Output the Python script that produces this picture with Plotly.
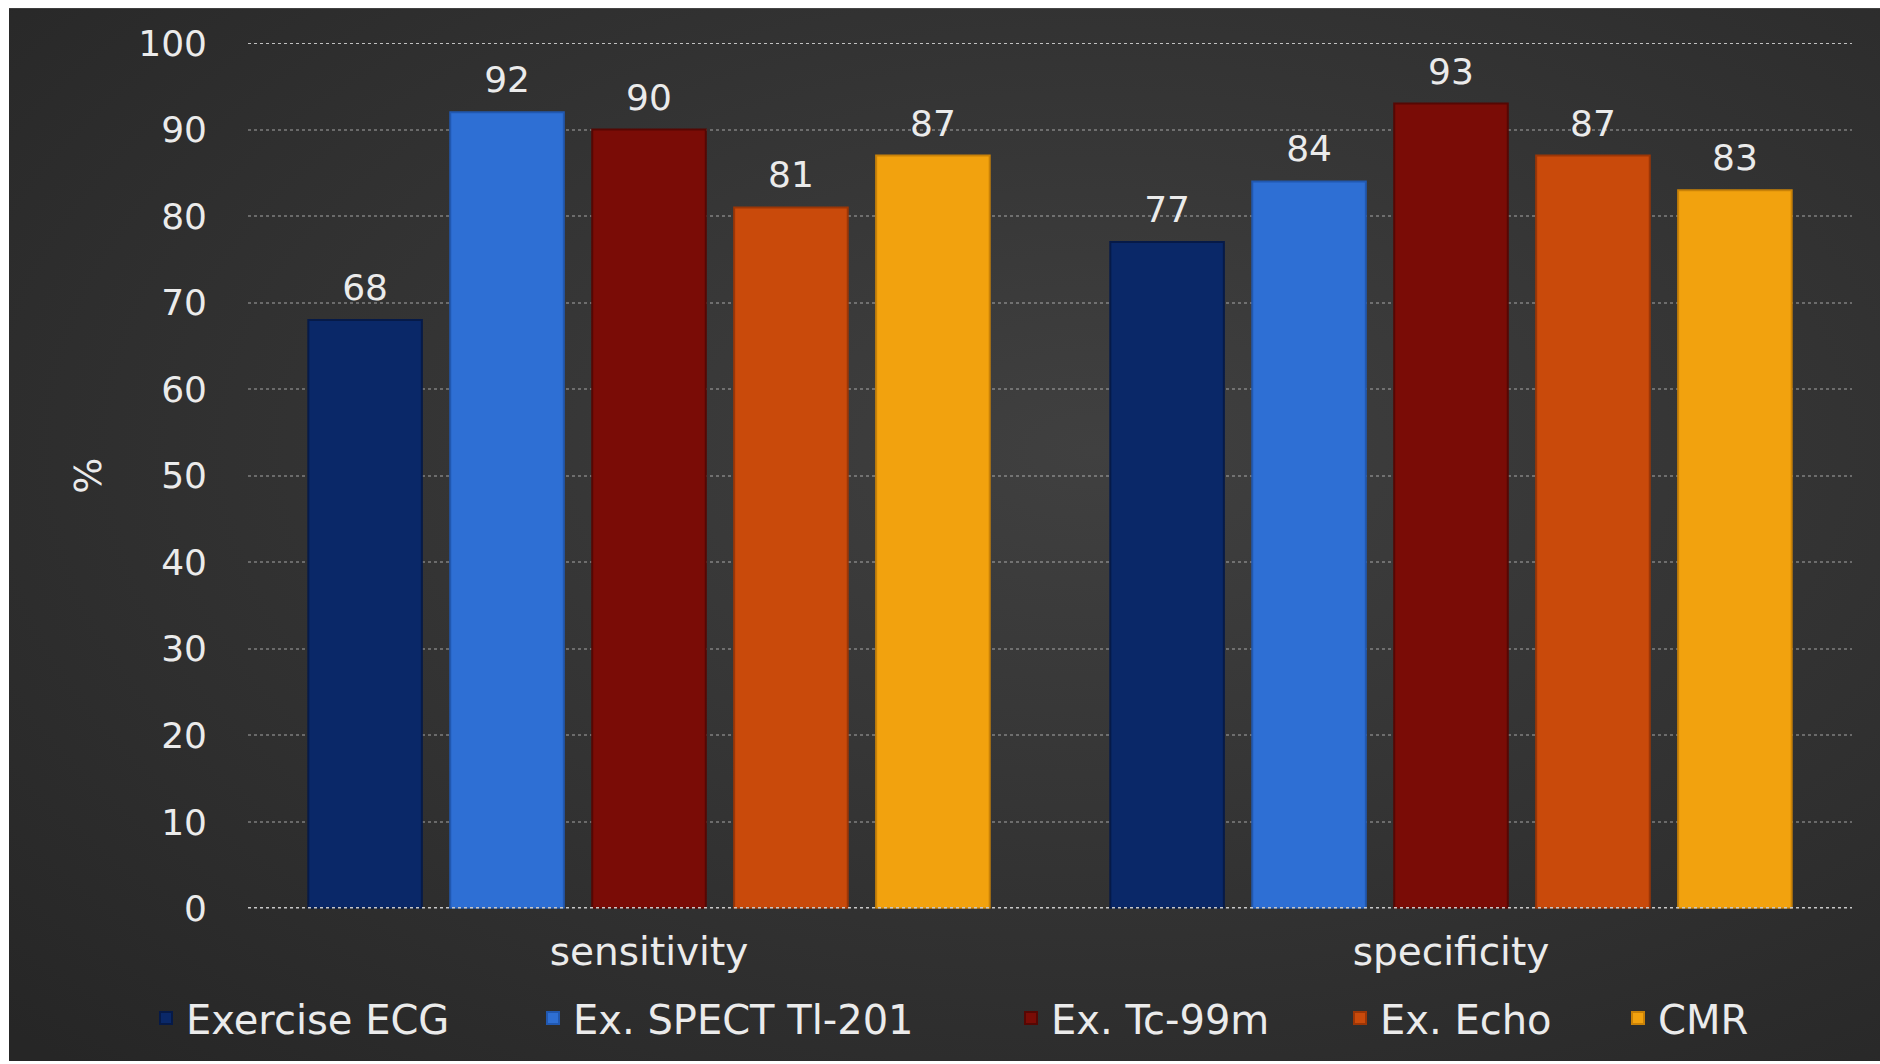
import base64
import plotly.graph_objects as go

categories = ["sensitivity", "specificity"]
series_names = ["Exercise ECG", "Ex. SPECT Tl-201", "Ex. Tc-99m", "Ex. Echo", "CMR"]
exercise_ecg = [68, 77]
ex_spect = [92, 84]
ex_tc99m = [90, 93]
ex_echo = [81, 87]
cmr = [87, 83]
y_ticks = [0, 10, 20, 30, 40, 50, 60, 70, 80, 90, 100]

series_values = [exercise_ecg, ex_spect, ex_tc99m, ex_echo, cmr]
fill_colors = ["#0a2868", "#2e6fd4", "#7a0c06", "#c94a0b", "#f2a20e"]
edge_colors = ["#061a48", "#2158b0", "#560703", "#9c3606", "#c98208"]
# left edge of each legend label text (px, from the reference)
legend_text_x = [186, 573, 1051, 1380, 1658]

W, H = 1880, 1064
L, R, T, B = 248, 28, 43, 153
pw, ph = W - L - R, H - T - B
FONT = "DejaVu Sans"
TXT = "#ebebeb"
BARGAP = 0.115

fig = go.Figure()
legend_layouts = {}
for i, (name, vals, fc, ec) in enumerate(zip(series_names, series_values, fill_colors, edge_colors)):
    lg = "legend" if i == 0 else f"legend{i + 1}"
    fig.add_trace(go.Bar(
        name=name, x=categories, y=vals, legend=lg,
        marker=dict(color=fc, line=dict(color=ec, width=2)),
        showlegend=True,
    ))
    legend_layouts[lg] = dict(
        orientation="h", xref="container", yref="container",
        x=(legend_text_x[i] - 40) / W, y=1 - 1018 / H,
        xanchor="left", yanchor="middle",
        font=dict(family=FONT, size=40, color=TXT),
        bgcolor="rgba(0,0,0,0)", borderwidth=0,
    )

for name, vals in zip(series_names, series_values):
    fig.add_trace(go.Scatter(
        name=name + " label", x=categories, y=vals, mode="markers+text",
        marker=dict(size=16, color="rgba(0,0,0,0)"),
        text=[str(v) for v in vals], textposition="top center",
        textfont=dict(family=FONT, size=36, color=TXT),
        showlegend=False, hoverinfo="skip", cliponaxis=False,
    ))

svg = ("<svg xmlns='http://www.w3.org/2000/svg' width='1871' height='1056' "
       "preserveAspectRatio='none' viewBox='0 0 1871 1056'><defs>"
       "<radialGradient id='g' cx='0.58' cy='0.42' r='0.8'>"
       "<stop offset='0' stop-color='#404040'/><stop offset='1' stop-color='#262626'/>"
       "</radialGradient></defs><rect width='1871' height='1056' fill='url(#g)'/></svg>")
src = "data:image/svg+xml;base64," + base64.b64encode(svg.encode()).decode()

fig.add_layout_image(dict(
    source=src, xref="paper", yref="paper",
    x=(9 - L) / pw, y=(H - B - 8) / ph,
    sizex=(W - 9) / pw, sizey=(H - 8) / ph,
    xanchor="left", yanchor="top", sizing="stretch", layer="below",
))

fig.add_shape(type="line", xref="paper", yref="y", x0=0, x1=1, y0=0, y1=0,
              line=dict(color="#c8c8c8", width=3, dash="dot"), layer="above")
fig.add_shape(type="line", xref="paper", yref="y", x0=0, x1=1, y0=100, y1=100,
              line=dict(color="rgba(230,230,230,0.8)", width=2, dash="dot"), layer="below")

fig.update_layout(
    width=W, height=H,
    margin=dict(l=L, r=R, t=T, b=B),
    paper_bgcolor="white", plot_bgcolor="rgba(0,0,0,0)",
    barmode="group", bargap=BARGAP, bargroupgap=0.2,
    scattermode="group", scattergap=BARGAP,
    font=dict(family=FONT, color=TXT),
    showlegend=True,
    xaxis=dict(tickfont=dict(family=FONT, size=39, color=TXT), showgrid=False,
               showline=False, ticks="", ticklabelstandoff=16),
    yaxis=dict(range=[0, 100], tickvals=y_ticks, tickfont=dict(family=FONT, size=36, color=TXT),
               showgrid=True, gridcolor="rgba(215,215,215,0.35)", griddash="dot", gridwidth=2,
               zeroline=False, showline=False, ticks="", ticklabelstandoff=40,
               title=dict(text="%", font=dict(family=FONT, size=38, color=TXT), standoff=24)),
    **legend_layouts,
)

fig.write_html("out.html")
